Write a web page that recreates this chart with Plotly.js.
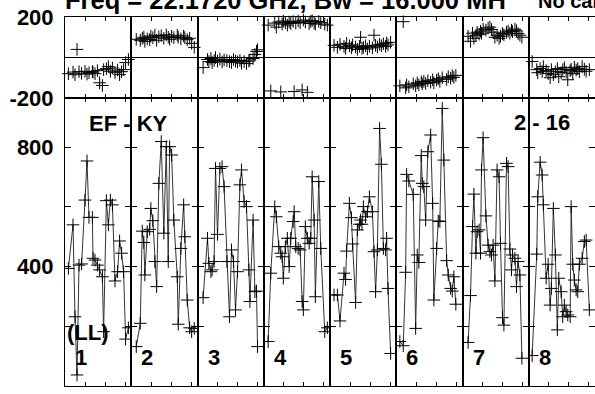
<!DOCTYPE html>
<html>
<head>
<meta charset="utf-8">
<script src="https://cdn.plot.ly/plotly-3.0.1.min.js"></script>
<style>html,body{margin:0;padding:0;background:#fff;}#chart{width:595px;height:394px;}</style>
</head>
<body>
<div id="chart"></div>
<script>
// ---- data (time within each scan panel, amplitude, phase) ----
const panelLabels = ['1','2','3','4','5','6','7','8'];
const t1 = [0.17,0.40,0.50,0.60,0.70,0.83,1.00,1.10,1.20,1.37,1.40,1.50,1.62,1.73,1.87,1.93,2.07,2.17,2.27,2.37,2.50,2.63,2.73,2.83,2.93,3.03,3.17];
const amp1 = [394,540,232,37,405,409,623,754,565,565,428,422,405,389,366,182,621,540,623,607,352,383,486,445,383,157,195];
const ph1 = [-80,-72,-85,40,-70,-78,-68,-82,-75,-70,-72,-80,-65,-125,-138,-60,-55,-45,-68,-52,-75,-62,-85,-70,-60,-25,-10];
const t2 = [0.25,0.45,0.55,0.63,0.68,0.80,0.92,0.98,1.08,1.18,1.27,1.38,1.50,1.63,1.75,1.85,1.92,2.02,2.13,2.30,2.35,2.48,2.62,2.68,2.80,2.92,3.02,3.15];
const amp2 = [132,210,519,481,372,517,525,595,554,417,333,679,819,512,802,417,802,774,556,366,207,461,607,500,288,195,182,193];
const ph2 = [90,85,95,100,80,92,88,105,98,110,85,102,108,95,112,100,90,105,98,110,100,92,106,98,88,95,70,50];
const t3 = [0.28,0.50,0.57,0.67,0.73,0.83,0.90,1.00,1.12,1.23,1.33,1.47,1.60,1.70,1.80,1.90,2.00,2.12,2.20,2.33,2.45,2.57,2.62,2.78,2.87,2.95,3.00];
const amp3 = [296,495,411,383,389,417,729,508,729,735,668,417,232,456,417,255,383,674,724,618,601,389,283,556,316,318,132];
const ph3 = [-50,-10,-20,-5,-25,-15,0,-18,-8,-22,-12,-15,-20,-25,-10,-18,-22,-15,-28,-20,-30,-18,-12,-5,15,30,38];
const t4 = [0.22,0.35,0.55,0.63,0.75,0.85,0.92,0.98,1.08,1.18,1.27,1.35,1.47,1.52,1.60,1.72,1.82,1.92,1.98,2.08,2.18,2.27,2.35,2.42,2.52,2.58,2.75,2.85,3.05,3.18];
const amp4 = [149,378,601,567,467,445,433,361,467,495,400,495,551,584,467,461,456,283,255,534,495,478,495,701,556,299,685,461,182,195];
const ph4 = [160,-165,170,150,175,-170,165,180,172,160,175,168,178,-168,170,180,172,-160,185,175,-172,168,178,182,170,165,178,172,165,160];
const t5 = [0.20,0.37,0.50,0.70,0.78,0.83,0.97,1.07,1.13,1.28,1.37,1.47,1.53,1.60,1.67,1.78,1.87,1.97,2.12,2.20,2.28,2.37,2.48,2.57,2.67,2.78,2.83,2.90,3.03];
const amp5 = [305,305,218,378,357,452,612,564,476,280,523,542,556,542,601,567,584,634,584,450,316,456,863,743,461,456,495,327,109];
const ph5 = [60,50,65,55,45,70,58,48,62,52,40,55,100,45,50,58,42,55,48,110,60,52,65,58,68,55,72,62,75];
const t6 = [0.18,0.35,0.47,0.52,0.63,0.85,0.97,1.05,1.13,1.25,1.30,1.38,1.47,1.58,1.72,1.82,1.88,2.02,2.10,2.18,2.30,2.38,2.52,2.60,2.72,2.80,2.88,2.98];
const amp6 = [149,135,381,709,687,642,193,439,414,772,679,668,556,785,841,612,288,461,553,551,930,757,420,372,327,318,366,274];
const ph6 = [-140,177,-150,-135,-145,-130,-140,-125,-135,-120,-130,-118,-128,-115,-122,-110,-125,-112,-105,-118,-100,-250,-108,-95,-102,-90,-98,-88];
const t7 = [0.28,0.40,0.50,0.57,0.67,0.73,0.83,0.90,0.95,1.03,1.17,1.28,1.37,1.45,1.53,1.62,1.73,1.83,1.90,2.00,2.07,2.20,2.28,2.37,2.45,2.50,2.62,2.70,2.78,2.87,2.97];
const amp7 = [146,303,534,643,445,517,523,445,724,832,570,472,450,439,472,352,724,701,478,229,204,746,735,459,389,439,428,333,417,372,93];
const ph7 = [105,80,120,95,110,125,115,130,120,140,135,145,150,138,125,100,110,95,105,118,112,125,130,120,135,128,140,132,118,110,100];
const t8 = [0.17,0.40,0.45,0.57,0.67,0.73,0.87,0.97,1.07,1.13,1.23,1.33,1.43,1.50,1.62,1.70,1.78,1.87,1.95,2.07,2.12,2.20,2.28,2.37,2.45,2.53,2.67,2.78,2.87,3.03];
const amp8 = [102,442,634,750,707,607,361,408,271,327,595,439,188,361,316,232,271,249,238,232,601,408,355,322,316,408,428,484,489,255];
const ph8 = [-20,-60,-75,-55,-70,-45,-65,-80,-100,-60,-85,-70,-55,-95,-75,-60,-50,-72,-110,-65,-58,-80,-48,-62,-55,-70,-45,-58,-68,-60];

const ampTicks = [0,200,400,600,800];
const ampTickText = ['0','','400','','800'];
const phTicks = [-200,0,200];
const phTickText = ['-200','','200'];
const titleText = 'Freq = 22.1720 GHz, Bw = 16.000 MH';
const titleText2 = 'No calibr';
const baselineText = 'EF - KY';
const ifText = '2 - 16';
const polText = '(LL)';

const T = [t1,t2,t3,t4,t5,t6,t7,t8];
const A = [amp1,amp2,amp3,amp4,amp5,amp6,amp7,amp8];
const P = [ph1,ph2,ph3,ph4,ph5,ph6,ph7,ph8];

// ---- layout ----
const W = 595, H = 394;
const mL = 65, mR = 0, mT = 17, mB = 8;
const pw = W - mL - mR, ph = H - mT - mB;
const split = (386 - 98) / ph;
const fam = 'Liberation Sans, Arial, sans-serif';
const font = {family: fam, size: 22, color: '#000', weight: 'bold'};
const titleFont = {family: fam, size: 25.5, color: '#000', weight: 'bold'};
const titleFont2 = {family: fam, size: 20, color: '#000', weight: 'bold'};

const layout = {
  width: W, height: H,
  margin: {l: mL, r: mR, t: mT, b: mB, pad: 0},
  paper_bgcolor: '#fff', plot_bgcolor: '#fff',
  showlegend: false,
  font: font,
  annotations: [],
};
const data = [];
const nP = 8;
function ax(n){ return n === 1 ? '' : String(n); }
for (let c = 0; c < nP; c++) {
  const dom = [c / nP, (c + 1) / nP];
  const na = c + 1, np = c + 1 + nP;
  const xBase = {domain: dom, range: [0, 3.3125], tickvals: [1,2,3], ticks: 'inside', ticklen: 4,
    tickcolor: '#000', tickwidth: 1, showticklabels: false, showline: true, linecolor: '#000',
    linewidth: 1, mirror: 'ticks', showgrid: false, zeroline: false, fixedrange: true, automargin: false};
  layout['xaxis' + ax(na)] = Object.assign({}, xBase, {anchor: 'y' + ax(na)});
  layout['xaxis' + ax(np)] = Object.assign({}, xBase, {anchor: 'y' + ax(np)});
  const yBase = {ticks: 'inside', ticklen: 6, tickcolor: '#000', tickwidth: 1, showline: true,
    linecolor: '#000', linewidth: 1, mirror: 'ticks', showgrid: false, fixedrange: true,
    showticklabels: c === 0, tickfont: font, ticklabelstandoff: 6, automargin: false};
  layout['yaxis' + ax(na)] = Object.assign({}, yBase, {domain: [0, split], anchor: 'x' + ax(na),
    range: [0, 965], tickvals: ampTicks, ticktext: ampTickText, zeroline: false});
  layout['yaxis' + ax(np)] = Object.assign({}, yBase, {domain: [split, 1], anchor: 'x' + ax(np),
    range: [-200, 200], tickvals: phTicks, ticktext: phTickText, zeroline: true,
    zerolinecolor: '#000', zerolinewidth: 1});
  const mk = {symbol: 'cross-thin-open', size: 9, color: '#000', line: {color: '#000', width: 1}};
  data.push({x: T[c], y: A[c], xaxis: 'x' + ax(na), yaxis: 'y' + ax(na), type: 'scatter',
    mode: 'lines+markers', line: {color: '#333', width: 1}, marker: mk, hoverinfo: 'skip'});
  data.push({x: T[c], y: P[c], xaxis: 'x' + ax(np), yaxis: 'y' + ax(np), type: 'scatter',
    mode: 'markers', marker: mk, cliponaxis: false, hoverinfo: 'skip'});
  layout.annotations.push({text: panelLabels[c], xref: 'paper', yref: 'paper',
    x: dom[0] + 8 / pw, y: (386 - 357) / ph, xanchor: 'left', yanchor: 'middle',
    showarrow: false, font: font});
}
function px2x(px){ return (px - mL) / pw; }
function py2y(py){ return (H - mB - py) / ph; }
layout.annotations.push(
  {text: titleText, xref: 'paper', yref: 'paper', x: px2x(63), y: py2y(0), xanchor: 'left', yanchor: 'middle', showarrow: false, font: titleFont},
  {text: titleText2, xref: 'paper', yref: 'paper', x: px2x(536), y: py2y(1), xanchor: 'left', yanchor: 'middle', showarrow: false, font: titleFont2},
  {text: baselineText, xref: 'paper', yref: 'paper', x: px2x(87), y: py2y(123), xanchor: 'left', yanchor: 'middle', showarrow: false, font: font},
  {text: ifText, xref: 'paper', yref: 'paper', x: px2x(512), y: py2y(122), xanchor: 'left', yanchor: 'middle', showarrow: false, font: font},
  {text: polText, xref: 'paper', yref: 'paper', x: px2x(65), y: py2y(332), xanchor: 'left', yanchor: 'middle', showarrow: false, font: font}
);

Plotly.newPlot('chart', data, layout, {staticPlot: true, displayModeBar: false});
</script>
</body>
</html>
